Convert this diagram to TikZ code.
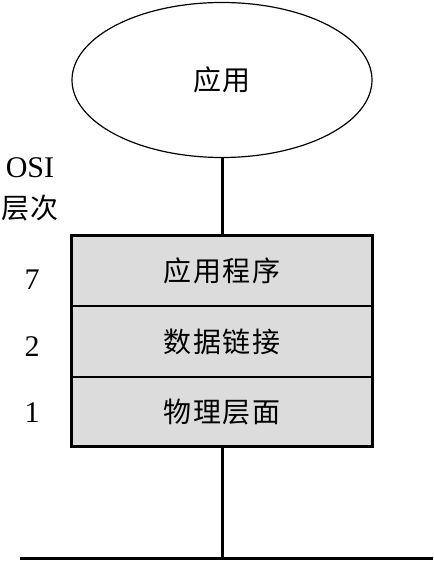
\documentclass[tikz,border=0pt]{standalone}
\usepackage{fontspec}
\setmainfont{Liberation Serif}
\newfontfamily\cjk{Noto Sans CJK SC}[LetterSpace=6]
\usetikzlibrary{shapes.geometric}
\definecolor{layergray}{HTML}{DCDCDC}
\begin{document}
\begin{tikzpicture}[x=1pt,y=-1pt,
  cjkfont/.style={font=\cjk\fontsize{28}{30}\selectfont},
  layerbox/.style={draw=black,line width=2pt,fill=layergray,minimum width=300pt,minimum height=70pt,inner sep=0pt,cjkfont},
  numlabel/.style={font=\fontsize{30}{32}\selectfont,inner sep=0pt},
  wire/.style={line width=3pt}]
\useasboundingbox (0,0) rectangle (433,561);
\node[ellipse,draw,line width=1.2pt,minimum width=300pt,minimum height=155pt,inner sep=0pt,cjkfont] (app) at (222,80) {应用};
\node[layerbox,minimum height=70pt] (l7) at (222,271) {应用程序};
\node[layerbox,minimum height=71pt] (l2) at (222,341.5) {数据链接};
\node[layerbox,minimum height=69pt] (l1) at (222,411.5) {物理层面};
\draw[line width=2.5pt] (l7.north west) rectangle (l1.south east);
\node[numlabel] (osi) at (30,168) {OSI};
\node[inner sep=0pt,cjkfont] (cc) at (30,208) {层次};
\node[numlabel] (n7) at (32,280) {7};
\node[numlabel] (n2) at (32,347) {2};
\node[numlabel] (n1) at (32,413) {1};
\coordinate (bl) at (20,558);
\coordinate (br) at (433,558);
\coordinate (bm) at (222,558);
\draw[wire] (app.south) -- (l7.north);
\draw[wire] (l1.south) -- (bm);
\draw[wire] (bl) -- (br);
\end{tikzpicture}
\end{document}
